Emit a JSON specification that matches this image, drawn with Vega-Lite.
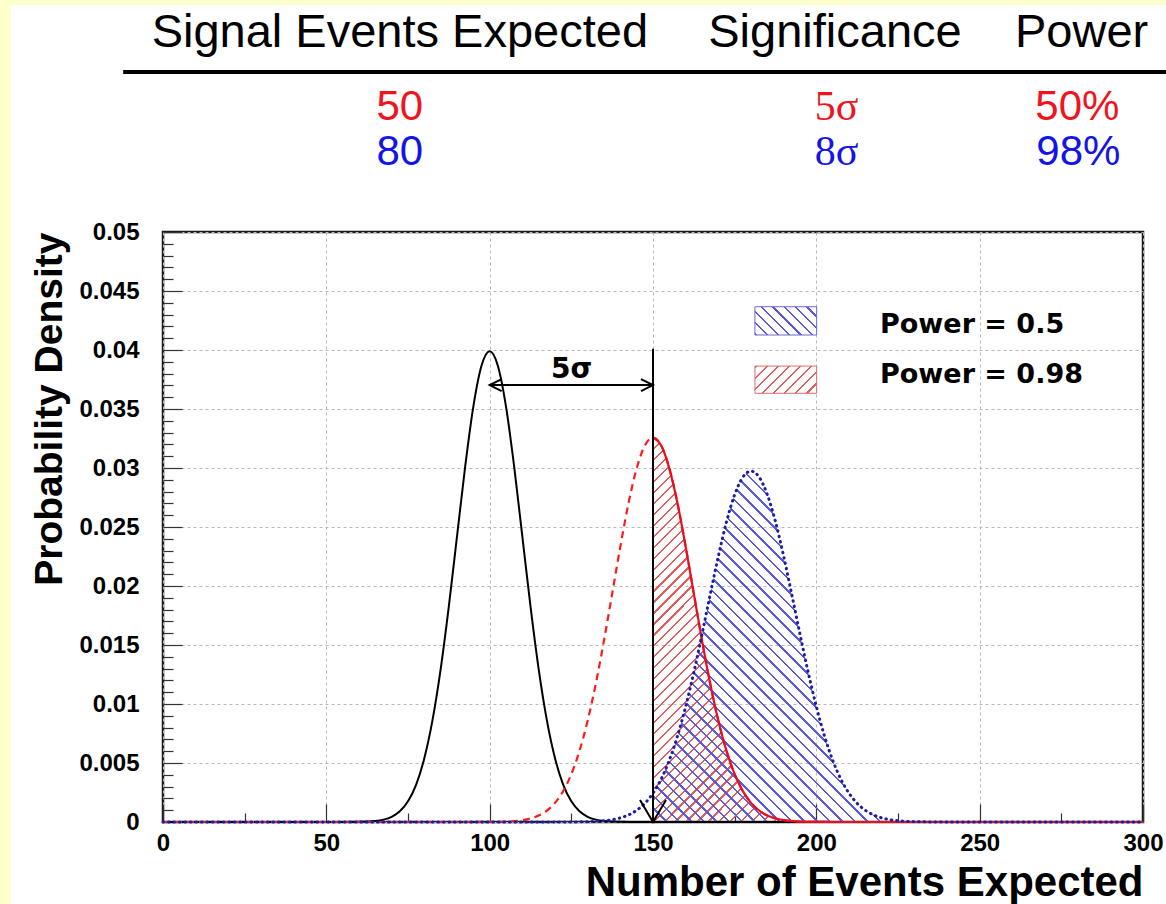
{
"$schema":"https://vega.github.io/schema/vega-lite/v6.json",
"width":980,"height":590,
"autosize":{"type":"none"},
"padding":{"left":163,"top":232,"right":23,"bottom":82},
"background":"#ffffff",
"config":{"view":{"stroke":"#1a1a1a","strokeWidth":2.5},
"axis":{"domain":false,"labelFont":"Liberation Sans","labelFontWeight":"bold","labelFontSize":24,"labelColor":"#000","titleFont":"Liberation Sans","titleFontWeight":"bold","titleColor":"#000","labelFlush":false,"labelOverlap":false,"tickColor":"#333","tickWidth":1.2,"gridColor":"#b8b8b8","gridDash":[3,3],"gridWidth":1}},
"datasets":{
"bkg":[{"x":0,"y":0},{"x":50,"y":0},{"x":55,"y":0.0000016},{"x":60,"y":0.0000134},{"x":65,"y":0.0000873},{"x":67.5,"y":0.000203},{"x":70,"y":0.000443},{"x":72.5,"y":0.000909},{"x":75,"y":0.001753},{"x":77.5,"y":0.003174},{"x":80,"y":0.005399},{"x":82.5,"y":0.008628},{"x":85,"y":0.012952},{"x":87.5,"y":0.018265},{"x":90,"y":0.024197},{"x":92.5,"y":0.030114},{"x":95,"y":0.035207},{"x":97.5,"y":0.038667},{"x":100,"y":0.039894},{"x":102.5,"y":0.038667},{"x":105,"y":0.035207},{"x":107.5,"y":0.030114},{"x":110,"y":0.024197},{"x":112.5,"y":0.018265},{"x":115,"y":0.012952},{"x":117.5,"y":0.008628},{"x":120,"y":0.005399},{"x":122.5,"y":0.003174},{"x":125,"y":0.001753},{"x":127.5,"y":0.000909},{"x":130,"y":0.000443},{"x":132.5,"y":0.000203},{"x":135,"y":0.0000873},{"x":140,"y":0.0000134},{"x":145,"y":0.0000016},{"x":150,"y":0},{"x":300,"y":0}],
"s50":[{"x":0,"y":0},{"x":90,"y":0},{"x":95,"y":0.0000014},{"x":100,"y":0.0000078},{"x":105,"y":0.0000381},{"x":110,"y":0.000157},{"x":112.5,"y":0.0003},{"x":115,"y":0.000549},{"x":117.5,"y":0.000963},{"x":120,"y":0.001622},{"x":122.5,"y":0.002619},{"x":125,"y":0.004056},{"x":127.5,"y":0.006026},{"x":130,"y":0.008587},{"x":132.5,"y":0.011736},{"x":135,"y":0.015387},{"x":137.5,"y":0.01935},{"x":140,"y":0.02334},{"x":142.5,"y":0.027005},{"x":145,"y":0.029969},{"x":147.5,"y":0.031902},{"x":150,"y":0.032574},{"x":152.5,"y":0.031902},{"x":155,"y":0.029969},{"x":157.5,"y":0.027005},{"x":160,"y":0.02334},{"x":162.5,"y":0.01935},{"x":165,"y":0.015387},{"x":167.5,"y":0.011736},{"x":170,"y":0.008587},{"x":172.5,"y":0.006026},{"x":175,"y":0.004056},{"x":177.5,"y":0.002619},{"x":180,"y":0.001622},{"x":182.5,"y":0.000963},{"x":185,"y":0.000549},{"x":187.5,"y":0.0003},{"x":190,"y":0.000157},{"x":195,"y":0.0000381},{"x":200,"y":0.0000078},{"x":205,"y":0.0000014},{"x":300,"y":0}],
"s80":[{"x":0,"y":0},{"x":115,"y":0},{"x":120,"y":0.0000014},{"x":125,"y":0.0000067},{"x":130,"y":0.0000287},{"x":135,"y":0.000107},{"x":137.5,"y":0.000197},{"x":140,"y":0.000349},{"x":142.5,"y":0.000598},{"x":145,"y":0.00099},{"x":147.5,"y":0.001581},{"x":150,"y":0.002441},{"x":152.5,"y":0.003639},{"x":155,"y":0.005239},{"x":157.5,"y":0.007287},{"x":160,"y":0.009789},{"x":162.5,"y":0.0127},{"x":165,"y":0.015916},{"x":167.5,"y":0.019265},{"x":170,"y":0.022523},{"x":172.5,"y":0.025434},{"x":175,"y":0.02774},{"x":177.5,"y":0.029223},{"x":180,"y":0.029735},{"x":182.5,"y":0.029223},{"x":185,"y":0.02774},{"x":187.5,"y":0.025434},{"x":190,"y":0.022523},{"x":192.5,"y":0.019265},{"x":195,"y":0.015916},{"x":197.5,"y":0.0127},{"x":200,"y":0.009789},{"x":202.5,"y":0.007287},{"x":205,"y":0.005239},{"x":207.5,"y":0.003639},{"x":210,"y":0.002441},{"x":212.5,"y":0.001581},{"x":215,"y":0.00099},{"x":217.5,"y":0.000598},{"x":220,"y":0.000349},{"x":222.5,"y":0.000197},{"x":225,"y":0.000107},{"x":230,"y":0.0000287},{"x":235,"y":0.0000067},{"x":240,"y":0.0000014},{"x":300,"y":0}]
},
"encoding":{
"x":{"field":"x","type":"quantitative","scale":{"domain":[0,300],"nice":false,"zero":false},"axis":null},
"y":{"field":"y","type":"quantitative","scale":{"domain":[0,0.05],"nice":false,"zero":false},"axis":null}
},
"resolve":{"axis":{"x":"independent","y":"independent"}},
"layer":[
{"data":{"values":[{"x":-48.2,"y":-0.01,"y2":0.075}]},"mark":{"type":"rule","color":"#ffffcc","strokeWidth":11},"encoding":{"y2":{"field":"y2"}}},
{"data":{"values":[{"x":-60,"x2":320,"y":0.06945}]},"mark":{"type":"rule","color":"#ffffcc","strokeWidth":5},"encoding":{"x2":{"field":"x2"}}},
{"data":{"name":"s50"},"transform":[{"filter":"datum.x >= 150 && datum.x <= 200"}],
 "mark":{"type":"area","interpolate":"monotone","fill":{"gradient":"linear","x1":0,"y1":0,"x2":0.513,"y2":1.207,"stops":[
{"offset":0,"color":"#e35d5d"},{"offset":0.004,"color":"#e35d5d"},{"offset":0.004,"color":"rgba(255,255,255,0)"},{"offset":0.02,"color":"rgba(255,255,255,0)"},
{"offset":0.02,"color":"#e35d5d"},{"offset":0.024,"color":"#e35d5d"},{"offset":0.024,"color":"rgba(255,255,255,0)"},{"offset":0.04,"color":"rgba(255,255,255,0)"},
{"offset":0.04,"color":"#e35d5d"},{"offset":0.044,"color":"#e35d5d"},{"offset":0.044,"color":"rgba(255,255,255,0)"},{"offset":0.06,"color":"rgba(255,255,255,0)"},
{"offset":0.06,"color":"#e35d5d"},{"offset":0.064,"color":"#e35d5d"},{"offset":0.064,"color":"rgba(255,255,255,0)"},{"offset":0.08,"color":"rgba(255,255,255,0)"},
{"offset":0.08,"color":"#e35d5d"},{"offset":0.084,"color":"#e35d5d"},{"offset":0.084,"color":"rgba(255,255,255,0)"},{"offset":0.1,"color":"rgba(255,255,255,0)"},
{"offset":0.1,"color":"#e35d5d"},{"offset":0.104,"color":"#e35d5d"},{"offset":0.104,"color":"rgba(255,255,255,0)"},{"offset":0.12,"color":"rgba(255,255,255,0)"},
{"offset":0.12,"color":"#e35d5d"},{"offset":0.124,"color":"#e35d5d"},{"offset":0.124,"color":"rgba(255,255,255,0)"},{"offset":0.14,"color":"rgba(255,255,255,0)"},
{"offset":0.14,"color":"#e35d5d"},{"offset":0.144,"color":"#e35d5d"},{"offset":0.144,"color":"rgba(255,255,255,0)"},{"offset":0.16,"color":"rgba(255,255,255,0)"},
{"offset":0.16,"color":"#e35d5d"},{"offset":0.164,"color":"#e35d5d"},{"offset":0.164,"color":"rgba(255,255,255,0)"},{"offset":0.18,"color":"rgba(255,255,255,0)"},
{"offset":0.18,"color":"#e35d5d"},{"offset":0.184,"color":"#e35d5d"},{"offset":0.184,"color":"rgba(255,255,255,0)"},{"offset":0.2,"color":"rgba(255,255,255,0)"},
{"offset":0.2,"color":"#e35d5d"},{"offset":0.204,"color":"#e35d5d"},{"offset":0.204,"color":"rgba(255,255,255,0)"},{"offset":0.22,"color":"rgba(255,255,255,0)"},
{"offset":0.22,"color":"#e35d5d"},{"offset":0.224,"color":"#e35d5d"},{"offset":0.224,"color":"rgba(255,255,255,0)"},{"offset":0.24,"color":"rgba(255,255,255,0)"},
{"offset":0.24,"color":"#e35d5d"},{"offset":0.244,"color":"#e35d5d"},{"offset":0.244,"color":"rgba(255,255,255,0)"},{"offset":0.26,"color":"rgba(255,255,255,0)"},
{"offset":0.26,"color":"#e35d5d"},{"offset":0.264,"color":"#e35d5d"},{"offset":0.264,"color":"rgba(255,255,255,0)"},{"offset":0.28,"color":"rgba(255,255,255,0)"},
{"offset":0.28,"color":"#e35d5d"},{"offset":0.284,"color":"#e35d5d"},{"offset":0.284,"color":"rgba(255,255,255,0)"},{"offset":0.3,"color":"rgba(255,255,255,0)"},
{"offset":0.3,"color":"#e35d5d"},{"offset":0.304,"color":"#e35d5d"},{"offset":0.304,"color":"rgba(255,255,255,0)"},{"offset":0.32,"color":"rgba(255,255,255,0)"},
{"offset":0.32,"color":"#e35d5d"},{"offset":0.324,"color":"#e35d5d"},{"offset":0.324,"color":"rgba(255,255,255,0)"},{"offset":0.34,"color":"rgba(255,255,255,0)"},
{"offset":0.34,"color":"#e35d5d"},{"offset":0.344,"color":"#e35d5d"},{"offset":0.344,"color":"rgba(255,255,255,0)"},{"offset":0.36,"color":"rgba(255,255,255,0)"},
{"offset":0.36,"color":"#e35d5d"},{"offset":0.364,"color":"#e35d5d"},{"offset":0.364,"color":"rgba(255,255,255,0)"},{"offset":0.38,"color":"rgba(255,255,255,0)"},
{"offset":0.38,"color":"#e35d5d"},{"offset":0.384,"color":"#e35d5d"},{"offset":0.384,"color":"rgba(255,255,255,0)"},{"offset":0.4,"color":"rgba(255,255,255,0)"},
{"offset":0.4,"color":"#e35d5d"},{"offset":0.404,"color":"#e35d5d"},{"offset":0.404,"color":"rgba(255,255,255,0)"},{"offset":0.42,"color":"rgba(255,255,255,0)"},
{"offset":0.42,"color":"#e35d5d"},{"offset":0.424,"color":"#e35d5d"},{"offset":0.424,"color":"rgba(255,255,255,0)"},{"offset":0.44,"color":"rgba(255,255,255,0)"},
{"offset":0.44,"color":"#e35d5d"},{"offset":0.444,"color":"#e35d5d"},{"offset":0.444,"color":"rgba(255,255,255,0)"},{"offset":0.46,"color":"rgba(255,255,255,0)"},
{"offset":0.46,"color":"#e35d5d"},{"offset":0.464,"color":"#e35d5d"},{"offset":0.464,"color":"rgba(255,255,255,0)"},{"offset":0.48,"color":"rgba(255,255,255,0)"},
{"offset":0.48,"color":"#e35d5d"},{"offset":0.484,"color":"#e35d5d"},{"offset":0.484,"color":"rgba(255,255,255,0)"},{"offset":0.5,"color":"rgba(255,255,255,0)"},
{"offset":0.5,"color":"#e35d5d"},{"offset":0.504,"color":"#e35d5d"},{"offset":0.504,"color":"rgba(255,255,255,0)"},{"offset":0.52,"color":"rgba(255,255,255,0)"},
{"offset":0.52,"color":"#e35d5d"},{"offset":0.524,"color":"#e35d5d"},{"offset":0.524,"color":"rgba(255,255,255,0)"},{"offset":0.54,"color":"rgba(255,255,255,0)"},
{"offset":0.54,"color":"#e35d5d"},{"offset":0.544,"color":"#e35d5d"},{"offset":0.544,"color":"rgba(255,255,255,0)"},{"offset":0.56,"color":"rgba(255,255,255,0)"},
{"offset":0.56,"color":"#e35d5d"},{"offset":0.564,"color":"#e35d5d"},{"offset":0.564,"color":"rgba(255,255,255,0)"},{"offset":0.58,"color":"rgba(255,255,255,0)"},
{"offset":0.58,"color":"#e35d5d"},{"offset":0.584,"color":"#e35d5d"},{"offset":0.584,"color":"rgba(255,255,255,0)"},{"offset":0.6,"color":"rgba(255,255,255,0)"},
{"offset":0.6,"color":"#e35d5d"},{"offset":0.604,"color":"#e35d5d"},{"offset":0.604,"color":"rgba(255,255,255,0)"},{"offset":0.62,"color":"rgba(255,255,255,0)"},
{"offset":0.62,"color":"#e35d5d"},{"offset":0.624,"color":"#e35d5d"},{"offset":0.624,"color":"rgba(255,255,255,0)"},{"offset":0.64,"color":"rgba(255,255,255,0)"},
{"offset":0.64,"color":"#e35d5d"},{"offset":0.644,"color":"#e35d5d"},{"offset":0.644,"color":"rgba(255,255,255,0)"},{"offset":0.66,"color":"rgba(255,255,255,0)"},
{"offset":0.66,"color":"#e35d5d"},{"offset":0.664,"color":"#e35d5d"},{"offset":0.664,"color":"rgba(255,255,255,0)"},{"offset":0.68,"color":"rgba(255,255,255,0)"},
{"offset":0.68,"color":"#e35d5d"},{"offset":0.684,"color":"#e35d5d"},{"offset":0.684,"color":"rgba(255,255,255,0)"},{"offset":0.7,"color":"rgba(255,255,255,0)"},
{"offset":0.7,"color":"#e35d5d"},{"offset":0.704,"color":"#e35d5d"},{"offset":0.704,"color":"rgba(255,255,255,0)"},{"offset":0.72,"color":"rgba(255,255,255,0)"},
{"offset":0.72,"color":"#e35d5d"},{"offset":0.724,"color":"#e35d5d"},{"offset":0.724,"color":"rgba(255,255,255,0)"},{"offset":0.74,"color":"rgba(255,255,255,0)"},
{"offset":0.74,"color":"#e35d5d"},{"offset":0.744,"color":"#e35d5d"},{"offset":0.744,"color":"rgba(255,255,255,0)"},{"offset":0.76,"color":"rgba(255,255,255,0)"},
{"offset":0.76,"color":"#e35d5d"},{"offset":0.764,"color":"#e35d5d"},{"offset":0.764,"color":"rgba(255,255,255,0)"},{"offset":0.78,"color":"rgba(255,255,255,0)"},
{"offset":0.78,"color":"#e35d5d"},{"offset":0.784,"color":"#e35d5d"},{"offset":0.784,"color":"rgba(255,255,255,0)"},{"offset":0.8,"color":"rgba(255,255,255,0)"},
{"offset":0.8,"color":"#e35d5d"},{"offset":0.804,"color":"#e35d5d"},{"offset":0.804,"color":"rgba(255,255,255,0)"},{"offset":0.82,"color":"rgba(255,255,255,0)"},
{"offset":0.82,"color":"#e35d5d"},{"offset":0.824,"color":"#e35d5d"},{"offset":0.824,"color":"rgba(255,255,255,0)"},{"offset":0.84,"color":"rgba(255,255,255,0)"},
{"offset":0.84,"color":"#e35d5d"},{"offset":0.844,"color":"#e35d5d"},{"offset":0.844,"color":"rgba(255,255,255,0)"},{"offset":0.86,"color":"rgba(255,255,255,0)"},
{"offset":0.86,"color":"#e35d5d"},{"offset":0.864,"color":"#e35d5d"},{"offset":0.864,"color":"rgba(255,255,255,0)"},{"offset":0.88,"color":"rgba(255,255,255,0)"},
{"offset":0.88,"color":"#e35d5d"},{"offset":0.884,"color":"#e35d5d"},{"offset":0.884,"color":"rgba(255,255,255,0)"},{"offset":0.9,"color":"rgba(255,255,255,0)"},
{"offset":0.9,"color":"#e35d5d"},{"offset":0.904,"color":"#e35d5d"},{"offset":0.904,"color":"rgba(255,255,255,0)"},{"offset":0.92,"color":"rgba(255,255,255,0)"},
{"offset":0.92,"color":"#e35d5d"},{"offset":0.924,"color":"#e35d5d"},{"offset":0.924,"color":"rgba(255,255,255,0)"},{"offset":0.94,"color":"rgba(255,255,255,0)"},
{"offset":0.94,"color":"#e35d5d"},{"offset":0.944,"color":"#e35d5d"},{"offset":0.944,"color":"rgba(255,255,255,0)"},{"offset":0.96,"color":"rgba(255,255,255,0)"},
{"offset":0.96,"color":"#e35d5d"},{"offset":0.964,"color":"#e35d5d"},{"offset":0.964,"color":"rgba(255,255,255,0)"},{"offset":0.98,"color":"rgba(255,255,255,0)"},
{"offset":0.98,"color":"#e35d5d"},{"offset":0.984,"color":"#e35d5d"},{"offset":0.984,"color":"rgba(255,255,255,0)"},{"offset":1,"color":"rgba(255,255,255,0)"}
]}}},
{"data":{"name":"s80"},"transform":[{"filter":"datum.x >= 150 && datum.x <= 235"}],
 "mark":{"type":"area","interpolate":"monotone","fill":{"gradient":"linear","x1":0,"y1":1,"x2":0.872,"y2":-0.102,"stops":[
{"offset":0,"color":"#5a5ae0"},{"offset":0.004,"color":"#5a5ae0"},{"offset":0.004,"color":"rgba(255,255,255,0)"},{"offset":0.02,"color":"rgba(255,255,255,0)"},
{"offset":0.02,"color":"#5a5ae0"},{"offset":0.024,"color":"#5a5ae0"},{"offset":0.024,"color":"rgba(255,255,255,0)"},{"offset":0.04,"color":"rgba(255,255,255,0)"},
{"offset":0.04,"color":"#5a5ae0"},{"offset":0.044,"color":"#5a5ae0"},{"offset":0.044,"color":"rgba(255,255,255,0)"},{"offset":0.06,"color":"rgba(255,255,255,0)"},
{"offset":0.06,"color":"#5a5ae0"},{"offset":0.064,"color":"#5a5ae0"},{"offset":0.064,"color":"rgba(255,255,255,0)"},{"offset":0.08,"color":"rgba(255,255,255,0)"},
{"offset":0.08,"color":"#5a5ae0"},{"offset":0.084,"color":"#5a5ae0"},{"offset":0.084,"color":"rgba(255,255,255,0)"},{"offset":0.1,"color":"rgba(255,255,255,0)"},
{"offset":0.1,"color":"#5a5ae0"},{"offset":0.104,"color":"#5a5ae0"},{"offset":0.104,"color":"rgba(255,255,255,0)"},{"offset":0.12,"color":"rgba(255,255,255,0)"},
{"offset":0.12,"color":"#5a5ae0"},{"offset":0.124,"color":"#5a5ae0"},{"offset":0.124,"color":"rgba(255,255,255,0)"},{"offset":0.14,"color":"rgba(255,255,255,0)"},
{"offset":0.14,"color":"#5a5ae0"},{"offset":0.144,"color":"#5a5ae0"},{"offset":0.144,"color":"rgba(255,255,255,0)"},{"offset":0.16,"color":"rgba(255,255,255,0)"},
{"offset":0.16,"color":"#5a5ae0"},{"offset":0.164,"color":"#5a5ae0"},{"offset":0.164,"color":"rgba(255,255,255,0)"},{"offset":0.18,"color":"rgba(255,255,255,0)"},
{"offset":0.18,"color":"#5a5ae0"},{"offset":0.184,"color":"#5a5ae0"},{"offset":0.184,"color":"rgba(255,255,255,0)"},{"offset":0.2,"color":"rgba(255,255,255,0)"},
{"offset":0.2,"color":"#5a5ae0"},{"offset":0.204,"color":"#5a5ae0"},{"offset":0.204,"color":"rgba(255,255,255,0)"},{"offset":0.22,"color":"rgba(255,255,255,0)"},
{"offset":0.22,"color":"#5a5ae0"},{"offset":0.224,"color":"#5a5ae0"},{"offset":0.224,"color":"rgba(255,255,255,0)"},{"offset":0.24,"color":"rgba(255,255,255,0)"},
{"offset":0.24,"color":"#5a5ae0"},{"offset":0.244,"color":"#5a5ae0"},{"offset":0.244,"color":"rgba(255,255,255,0)"},{"offset":0.26,"color":"rgba(255,255,255,0)"},
{"offset":0.26,"color":"#5a5ae0"},{"offset":0.264,"color":"#5a5ae0"},{"offset":0.264,"color":"rgba(255,255,255,0)"},{"offset":0.28,"color":"rgba(255,255,255,0)"},
{"offset":0.28,"color":"#5a5ae0"},{"offset":0.284,"color":"#5a5ae0"},{"offset":0.284,"color":"rgba(255,255,255,0)"},{"offset":0.3,"color":"rgba(255,255,255,0)"},
{"offset":0.3,"color":"#5a5ae0"},{"offset":0.304,"color":"#5a5ae0"},{"offset":0.304,"color":"rgba(255,255,255,0)"},{"offset":0.32,"color":"rgba(255,255,255,0)"},
{"offset":0.32,"color":"#5a5ae0"},{"offset":0.324,"color":"#5a5ae0"},{"offset":0.324,"color":"rgba(255,255,255,0)"},{"offset":0.34,"color":"rgba(255,255,255,0)"},
{"offset":0.34,"color":"#5a5ae0"},{"offset":0.344,"color":"#5a5ae0"},{"offset":0.344,"color":"rgba(255,255,255,0)"},{"offset":0.36,"color":"rgba(255,255,255,0)"},
{"offset":0.36,"color":"#5a5ae0"},{"offset":0.364,"color":"#5a5ae0"},{"offset":0.364,"color":"rgba(255,255,255,0)"},{"offset":0.38,"color":"rgba(255,255,255,0)"},
{"offset":0.38,"color":"#5a5ae0"},{"offset":0.384,"color":"#5a5ae0"},{"offset":0.384,"color":"rgba(255,255,255,0)"},{"offset":0.4,"color":"rgba(255,255,255,0)"},
{"offset":0.4,"color":"#5a5ae0"},{"offset":0.404,"color":"#5a5ae0"},{"offset":0.404,"color":"rgba(255,255,255,0)"},{"offset":0.42,"color":"rgba(255,255,255,0)"},
{"offset":0.42,"color":"#5a5ae0"},{"offset":0.424,"color":"#5a5ae0"},{"offset":0.424,"color":"rgba(255,255,255,0)"},{"offset":0.44,"color":"rgba(255,255,255,0)"},
{"offset":0.44,"color":"#5a5ae0"},{"offset":0.444,"color":"#5a5ae0"},{"offset":0.444,"color":"rgba(255,255,255,0)"},{"offset":0.46,"color":"rgba(255,255,255,0)"},
{"offset":0.46,"color":"#5a5ae0"},{"offset":0.464,"color":"#5a5ae0"},{"offset":0.464,"color":"rgba(255,255,255,0)"},{"offset":0.48,"color":"rgba(255,255,255,0)"},
{"offset":0.48,"color":"#5a5ae0"},{"offset":0.484,"color":"#5a5ae0"},{"offset":0.484,"color":"rgba(255,255,255,0)"},{"offset":0.5,"color":"rgba(255,255,255,0)"},
{"offset":0.5,"color":"#5a5ae0"},{"offset":0.504,"color":"#5a5ae0"},{"offset":0.504,"color":"rgba(255,255,255,0)"},{"offset":0.52,"color":"rgba(255,255,255,0)"},
{"offset":0.52,"color":"#5a5ae0"},{"offset":0.524,"color":"#5a5ae0"},{"offset":0.524,"color":"rgba(255,255,255,0)"},{"offset":0.54,"color":"rgba(255,255,255,0)"},
{"offset":0.54,"color":"#5a5ae0"},{"offset":0.544,"color":"#5a5ae0"},{"offset":0.544,"color":"rgba(255,255,255,0)"},{"offset":0.56,"color":"rgba(255,255,255,0)"},
{"offset":0.56,"color":"#5a5ae0"},{"offset":0.564,"color":"#5a5ae0"},{"offset":0.564,"color":"rgba(255,255,255,0)"},{"offset":0.58,"color":"rgba(255,255,255,0)"},
{"offset":0.58,"color":"#5a5ae0"},{"offset":0.584,"color":"#5a5ae0"},{"offset":0.584,"color":"rgba(255,255,255,0)"},{"offset":0.6,"color":"rgba(255,255,255,0)"},
{"offset":0.6,"color":"#5a5ae0"},{"offset":0.604,"color":"#5a5ae0"},{"offset":0.604,"color":"rgba(255,255,255,0)"},{"offset":0.62,"color":"rgba(255,255,255,0)"},
{"offset":0.62,"color":"#5a5ae0"},{"offset":0.624,"color":"#5a5ae0"},{"offset":0.624,"color":"rgba(255,255,255,0)"},{"offset":0.64,"color":"rgba(255,255,255,0)"},
{"offset":0.64,"color":"#5a5ae0"},{"offset":0.644,"color":"#5a5ae0"},{"offset":0.644,"color":"rgba(255,255,255,0)"},{"offset":0.66,"color":"rgba(255,255,255,0)"},
{"offset":0.66,"color":"#5a5ae0"},{"offset":0.664,"color":"#5a5ae0"},{"offset":0.664,"color":"rgba(255,255,255,0)"},{"offset":0.68,"color":"rgba(255,255,255,0)"},
{"offset":0.68,"color":"#5a5ae0"},{"offset":0.684,"color":"#5a5ae0"},{"offset":0.684,"color":"rgba(255,255,255,0)"},{"offset":0.7,"color":"rgba(255,255,255,0)"},
{"offset":0.7,"color":"#5a5ae0"},{"offset":0.704,"color":"#5a5ae0"},{"offset":0.704,"color":"rgba(255,255,255,0)"},{"offset":0.72,"color":"rgba(255,255,255,0)"},
{"offset":0.72,"color":"#5a5ae0"},{"offset":0.724,"color":"#5a5ae0"},{"offset":0.724,"color":"rgba(255,255,255,0)"},{"offset":0.74,"color":"rgba(255,255,255,0)"},
{"offset":0.74,"color":"#5a5ae0"},{"offset":0.744,"color":"#5a5ae0"},{"offset":0.744,"color":"rgba(255,255,255,0)"},{"offset":0.76,"color":"rgba(255,255,255,0)"},
{"offset":0.76,"color":"#5a5ae0"},{"offset":0.764,"color":"#5a5ae0"},{"offset":0.764,"color":"rgba(255,255,255,0)"},{"offset":0.78,"color":"rgba(255,255,255,0)"},
{"offset":0.78,"color":"#5a5ae0"},{"offset":0.784,"color":"#5a5ae0"},{"offset":0.784,"color":"rgba(255,255,255,0)"},{"offset":0.8,"color":"rgba(255,255,255,0)"},
{"offset":0.8,"color":"#5a5ae0"},{"offset":0.804,"color":"#5a5ae0"},{"offset":0.804,"color":"rgba(255,255,255,0)"},{"offset":0.82,"color":"rgba(255,255,255,0)"},
{"offset":0.82,"color":"#5a5ae0"},{"offset":0.824,"color":"#5a5ae0"},{"offset":0.824,"color":"rgba(255,255,255,0)"},{"offset":0.84,"color":"rgba(255,255,255,0)"},
{"offset":0.84,"color":"#5a5ae0"},{"offset":0.844,"color":"#5a5ae0"},{"offset":0.844,"color":"rgba(255,255,255,0)"},{"offset":0.86,"color":"rgba(255,255,255,0)"},
{"offset":0.86,"color":"#5a5ae0"},{"offset":0.864,"color":"#5a5ae0"},{"offset":0.864,"color":"rgba(255,255,255,0)"},{"offset":0.88,"color":"rgba(255,255,255,0)"},
{"offset":0.88,"color":"#5a5ae0"},{"offset":0.884,"color":"#5a5ae0"},{"offset":0.884,"color":"rgba(255,255,255,0)"},{"offset":0.9,"color":"rgba(255,255,255,0)"},
{"offset":0.9,"color":"#5a5ae0"},{"offset":0.904,"color":"#5a5ae0"},{"offset":0.904,"color":"rgba(255,255,255,0)"},{"offset":0.92,"color":"rgba(255,255,255,0)"},
{"offset":0.92,"color":"#5a5ae0"},{"offset":0.924,"color":"#5a5ae0"},{"offset":0.924,"color":"rgba(255,255,255,0)"},{"offset":0.94,"color":"rgba(255,255,255,0)"},
{"offset":0.94,"color":"#5a5ae0"},{"offset":0.944,"color":"#5a5ae0"},{"offset":0.944,"color":"rgba(255,255,255,0)"},{"offset":0.96,"color":"rgba(255,255,255,0)"},
{"offset":0.96,"color":"#5a5ae0"},{"offset":0.964,"color":"#5a5ae0"},{"offset":0.964,"color":"rgba(255,255,255,0)"},{"offset":0.98,"color":"rgba(255,255,255,0)"},
{"offset":0.98,"color":"#5a5ae0"},{"offset":0.984,"color":"#5a5ae0"},{"offset":0.984,"color":"rgba(255,255,255,0)"},{"offset":1,"color":"rgba(255,255,255,0)"}
]}}},
{"data":{"name":"bkg"},"mark":{"type":"line","interpolate":"monotone","color":"#000000","strokeWidth":2},
 "encoding":{
  "x":{"field":"x","type":"quantitative","scale":{"domain":[0,300],"nice":false,"zero":false},"axis":{"orient":"bottom","values":[0,50,100,150,200,250,300],"ticks":false,"tickSize":0,"grid":true,"labelPadding":9,"title":"Number of Events Expected","titleAnchor":"end","titleFontSize":42,"titlePadding":7}},
  "y":{"field":"y","type":"quantitative","scale":{"domain":[0,0.05],"nice":false,"zero":false},"axis":{"orient":"left","values":[0,0.005,0.01,0.015,0.02,0.025,0.03,0.035,0.04,0.045,0.05],"format":"~g","ticks":false,"tickSize":0,"grid":true,"labelPadding":24,"title":"Probability Density","titleAnchor":"end","titleFontSize":39,"titlePadding":9}}
 }},
{"data":{"name":"s50"},"mark":{"type":"line","interpolate":"monotone","color":"#ff1a1a","strokeWidth":2.2,"strokeDash":[7,5]},
 "encoding":{
  "x":{"field":"x","type":"quantitative","scale":{"domain":[0,300],"nice":false,"zero":false},"axis":{"orient":"bottom","values":[0,50,100,150,200,250,300],"labels":false,"grid":false,"ticks":true,"tickSize":-18,"title":null}},
  "y":{"field":"y","type":"quantitative","scale":{"domain":[0,0.05],"nice":false,"zero":false},"axis":{"orient":"left","values":[0,0.005,0.01,0.015,0.02,0.025,0.03,0.035,0.04,0.045,0.05],"labels":false,"grid":false,"ticks":true,"tickSize":-19,"title":null}}
 }},
{"data":{"name":"s50"},"transform":[{"filter":"datum.x >= 150"}],"mark":{"type":"line","interpolate":"monotone","color":"#e8101e","strokeWidth":2.2}},
{"data":{"name":"s80"},"mark":{"type":"line","interpolate":"monotone","color":"#1c1ca8","strokeWidth":3,"strokeCap":"round","strokeDash":[0.5,5]},
 "encoding":{
  "x":{"field":"x","type":"quantitative","scale":{"domain":[0,300],"nice":false,"zero":false},"axis":{"orient":"bottom","values":[25,75,125,175,225,275],"labels":false,"grid":false,"ticks":true,"tickSize":-9,"title":null}},
  "y":{"field":"y","type":"quantitative","scale":{"domain":[0,0.05],"nice":false,"zero":false},"axis":{"orient":"left","values":[0.001,0.002,0.003,0.004,0.006,0.007,0.008,0.009,0.011,0.012,0.013,0.014,0.016,0.017,0.018,0.019,0.021,0.022,0.023,0.024,0.026,0.027,0.028,0.029,0.031,0.032,0.033,0.034,0.036,0.037,0.038,0.039,0.041,0.042,0.043,0.044,0.046,0.047,0.048,0.049],"labels":false,"grid":false,"ticks":true,"tickSize":-10,"title":null}}
 }},
{"data":{"values":[{"x":150,"y":0,"y2":0.0401}]},"mark":{"type":"rule","color":"#000000","strokeWidth":2},"encoding":{"y2":{"field":"y2"}}},
{"data":{"values":[{"x":100,"x2":150,"y":0.03703}]},"mark":{"type":"rule","color":"#000000","strokeWidth":2},"encoding":{"x2":{"field":"x2"}}},
{"data":{"values":[{"x":100,"y":0.03703}]},"mark":{"type":"point","shape":"M2,-1L0,0L2,1","size":144,"filled":false,"stroke":"#000000","strokeWidth":2,"opacity":1}},
{"data":{"values":[{"x":150,"y":0.03703}]},"mark":{"type":"point","shape":"M-2,-1L0,0L-2,1","size":144,"filled":false,"stroke":"#000000","strokeWidth":2,"opacity":1}},
{"data":{"values":[{"x":150,"y":0}]},"mark":{"type":"point","shape":"M-1,-1.7L0,0L1,-1.7","size":676,"filled":false,"stroke":"#000000","strokeWidth":2,"opacity":1}},
{"data":{"values":[{"t":"5σ","x":125.1,"y":0.03763}]},"mark":{"type":"text","font":"DejaVu Sans","fontWeight":"bold","fontSize":28,"align":"center","baseline":"alphabetic","color":"#000000"},"encoding":{"text":{"field":"t"}}},
{"data":{"values":[{"x":181.2,"x2":200.1,"y":0.04367,"y2":0.04127}]},"mark":{"type":"rect","stroke":"#6a6ad8","strokeWidth":1,"fill":{"gradient":"linear","x1":0,"y1":1,"x2":1.206,"y2":0.447,"stops":[
{"offset":0,"color":"#5a5ae0"},{"offset":0.025,"color":"#5a5ae0"},{"offset":0.025,"color":"rgba(255,255,255,0)"},{"offset":0.125,"color":"rgba(255,255,255,0)"},
{"offset":0.125,"color":"#5a5ae0"},{"offset":0.15,"color":"#5a5ae0"},{"offset":0.15,"color":"rgba(255,255,255,0)"},{"offset":0.25,"color":"rgba(255,255,255,0)"},
{"offset":0.25,"color":"#5a5ae0"},{"offset":0.275,"color":"#5a5ae0"},{"offset":0.275,"color":"rgba(255,255,255,0)"},{"offset":0.375,"color":"rgba(255,255,255,0)"},
{"offset":0.375,"color":"#5a5ae0"},{"offset":0.4,"color":"#5a5ae0"},{"offset":0.4,"color":"rgba(255,255,255,0)"},{"offset":0.5,"color":"rgba(255,255,255,0)"},
{"offset":0.5,"color":"#5a5ae0"},{"offset":0.525,"color":"#5a5ae0"},{"offset":0.525,"color":"rgba(255,255,255,0)"},{"offset":0.625,"color":"rgba(255,255,255,0)"},
{"offset":0.625,"color":"#5a5ae0"},{"offset":0.65,"color":"#5a5ae0"},{"offset":0.65,"color":"rgba(255,255,255,0)"},{"offset":0.75,"color":"rgba(255,255,255,0)"},
{"offset":0.75,"color":"#5a5ae0"},{"offset":0.775,"color":"#5a5ae0"},{"offset":0.775,"color":"rgba(255,255,255,0)"},{"offset":0.875,"color":"rgba(255,255,255,0)"},
{"offset":0.875,"color":"#5a5ae0"},{"offset":0.9,"color":"#5a5ae0"},{"offset":0.9,"color":"rgba(255,255,255,0)"},{"offset":1,"color":"rgba(255,255,255,0)"}
]}},"encoding":{"x2":{"field":"x2"},"y2":{"field":"y2"}}},
{"data":{"values":[{"x":181.2,"x2":200.1,"y":0.03864,"y2":0.03633}]},"mark":{"type":"rect","stroke":"#d87070","strokeWidth":1,"fill":{"gradient":"linear","x1":0,"y1":0,"x2":1.206,"y2":0.534,"stops":[
{"offset":0,"color":"#e35d5d"},{"offset":0.025,"color":"#e35d5d"},{"offset":0.025,"color":"rgba(255,255,255,0)"},{"offset":0.125,"color":"rgba(255,255,255,0)"},
{"offset":0.125,"color":"#e35d5d"},{"offset":0.15,"color":"#e35d5d"},{"offset":0.15,"color":"rgba(255,255,255,0)"},{"offset":0.25,"color":"rgba(255,255,255,0)"},
{"offset":0.25,"color":"#e35d5d"},{"offset":0.275,"color":"#e35d5d"},{"offset":0.275,"color":"rgba(255,255,255,0)"},{"offset":0.375,"color":"rgba(255,255,255,0)"},
{"offset":0.375,"color":"#e35d5d"},{"offset":0.4,"color":"#e35d5d"},{"offset":0.4,"color":"rgba(255,255,255,0)"},{"offset":0.5,"color":"rgba(255,255,255,0)"},
{"offset":0.5,"color":"#e35d5d"},{"offset":0.525,"color":"#e35d5d"},{"offset":0.525,"color":"rgba(255,255,255,0)"},{"offset":0.625,"color":"rgba(255,255,255,0)"},
{"offset":0.625,"color":"#e35d5d"},{"offset":0.65,"color":"#e35d5d"},{"offset":0.65,"color":"rgba(255,255,255,0)"},{"offset":0.75,"color":"rgba(255,255,255,0)"},
{"offset":0.75,"color":"#e35d5d"},{"offset":0.775,"color":"#e35d5d"},{"offset":0.775,"color":"rgba(255,255,255,0)"},{"offset":0.875,"color":"rgba(255,255,255,0)"},
{"offset":0.875,"color":"#e35d5d"},{"offset":0.9,"color":"#e35d5d"},{"offset":0.9,"color":"rgba(255,255,255,0)"},{"offset":1,"color":"rgba(255,255,255,0)"}
]}},"encoding":{"x2":{"field":"x2"},"y2":{"field":"y2"}}},
{"data":{"values":[{"t":"Power = 0.5","x":219.5,"y":0.04144},{"t":"Power = 0.98","x":219.5,"y":0.03718}]},"mark":{"type":"text","font":"DejaVu Sans","fontWeight":"bold","fontSize":27,"align":"left","baseline":"alphabetic","color":"#000000"},"encoding":{"text":{"field":"t"}}},
{"data":{"values":[{"x":-12.2,"x2":307.5,"y":0.06356}]},"mark":{"type":"rule","color":"#000000","strokeWidth":4},"encoding":{"x2":{"field":"x2"}}},
{"data":{"values":[{"t":"Signal Events Expected","x":72.5,"y":0.0657},{"t":"Significance","x":205.7,"y":0.0657},{"t":"Power","x":281.2,"y":0.0657}]},"mark":{"type":"text","font":"Liberation Sans","fontSize":47,"align":"center","baseline":"alphabetic","color":"#000000"},"encoding":{"text":{"field":"t"}}},
{"data":{"values":[{"t":"50","x":72.5,"y":0.05949,"g":"r"},{"t":"50%","x":279.9,"y":0.05949,"g":"r"},{"t":"80","x":72.5,"y":0.05568,"g":"b"},{"t":"98%","x":280.2,"y":0.05568,"g":"b"}]},"mark":{"type":"text","font":"Liberation Sans","fontSize":42,"align":"center","baseline":"alphabetic"},"encoding":{"text":{"field":"t"},"color":{"field":"g","type":"nominal","scale":{"domain":["r","b"],"range":["#f0141e","#1414e6"]},"legend":null}}},
{"data":{"values":[{"t":"5σ","x":206.2,"y":0.05949,"g":"r"},{"t":"8σ","x":206.2,"y":0.05568,"g":"b"}]},"mark":{"type":"text","font":"Liberation Serif","fontSize":42,"align":"center","baseline":"alphabetic"},"encoding":{"text":{"field":"t"},"color":{"field":"g","type":"nominal","scale":{"domain":["r","b"],"range":["#f0141e","#1414e6"]},"legend":null}}}
]
}
